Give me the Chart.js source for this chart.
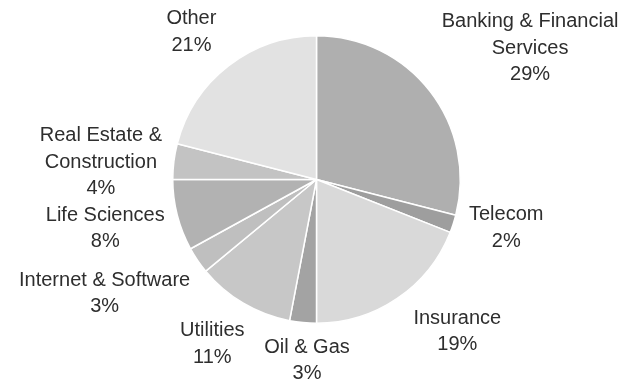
<!DOCTYPE html>
<html>
<head>
<meta charset="utf-8">
<script src="https://cdn.jsdelivr.net/npm/chart.js@4"></script>
<style>
  html, body { margin: 0; padding: 0; background: #fff; }
  #wrap { width: 625px; height: 381px; }
</style>
</head>
<body>
<div id="wrap"><canvas id="sectorPie" width="625" height="381"></canvas></div>
<script>
// sectors, clockwise from 12 o'clock
const SECTORS = [
    'Banking & Financial\nServices',
    'Telecom',
    'Insurance',
    'Oil & Gas',
    'Utilities',
    'Internet & Software',
    'Life Sciences',
    'Real Estate &\nConstruction',
    'Other'
];
const SHARES = [29, 2, 19, 3, 11, 3, 8, 4, 21];
const GRAYS = ['#afafaf', '#9e9e9e', '#d9d9d9', '#a3a3a3', '#c7c7c7', '#bfbfbf', '#b2b2b2', '#c3c3c3', '#e2e2e2'];

// where each label block sits relative to the outer mid point of its slice
const LABEL_NUDGE = [[100, -43], [53, 4], [60, 33], [4, 38], [-31, 41], [-93, 33], [-72, 13], [-73, 1], [-37, -34]];

const labelFont = '20px "Liberation Sans", Arial, sans-serif';
const lineGap = 26.5;

// outside labels: name lines + percentage, centred on a point near each slice
const outsideLabels = {
    id: 'outsideLabels',
    afterDatasetsDraw(chart) {
        const ctx = chart.ctx;
        const arcs = chart.getDatasetMeta(0).data;
        ctx.save();
        ctx.font = labelFont;
        ctx.fillStyle = '#2e2e2e';
        ctx.textAlign = 'center';
        ctx.textBaseline = 'middle';
        arcs.forEach((arc, i) => {
            const p = arc.getProps(['x', 'y', 'startAngle', 'endAngle', 'outerRadius'], true);
            const mid = (p.startAngle + p.endAngle) / 2;
            const cx = p.x + Math.cos(mid) * p.outerRadius + LABEL_NUDGE[i][0];
            const cy = p.y + Math.sin(mid) * p.outerRadius + LABEL_NUDGE[i][1];
            const lines = SECTORS[i].split('\n').concat([SHARES[i] + '%']);
            const top = cy - (lines.length - 1) * lineGap / 2;
            lines.forEach((txt, k) => ctx.fillText(txt, cx, top + k * lineGap));
        });
        ctx.restore();
    }
};

new Chart(document.getElementById('sectorPie'), {
    type: 'pie',
    data: {
        labels: SECTORS,
        datasets: [{
            data: SHARES,
            backgroundColor: GRAYS,
            borderColor: '#ffffff',
            borderWidth: 1.5
        }]
    },
    options: {
        responsive: false,
        animation: false,
        layout: { padding: { left: 172, right: 164, top: 35, bottom: 57 } },
        plugins: {
            legend: { display: false },
            tooltip: { enabled: false }
        }
    },
    plugins: [outsideLabels]
});
</script>
</body>
</html>
